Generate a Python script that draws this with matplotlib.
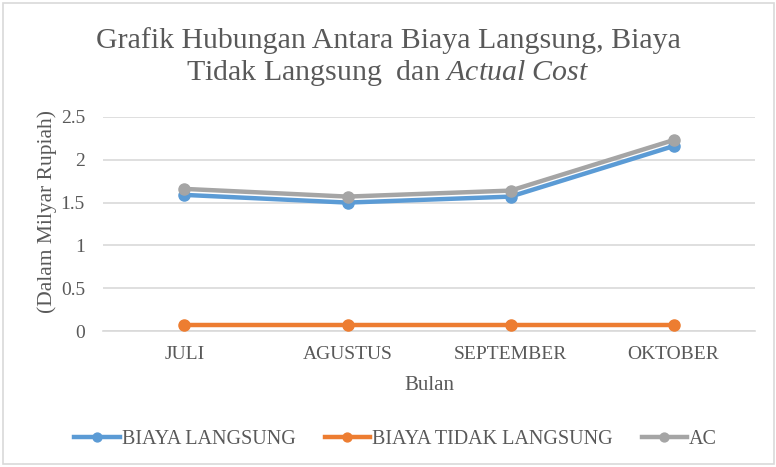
import matplotlib
matplotlib.use("Agg")
import matplotlib.pyplot as plt
from matplotlib.patches import Rectangle

bulan = ["JULI", "AGUSTUS", "SEPTEMBER", "OKTOBER"]
biaya_langsung = [1.59, 1.50, 1.57, 2.16]
biaya_tidak_langsung = [0.07, 0.07, 0.07, 0.07]
actual_cost = [1.66, 1.57, 1.64, 2.23]
yticks = [0, 0.5, 1, 1.5, 2, 2.5]
ytick_labels = ["0", "0.5", "1", "1.5", "2", "2.5"]

plt.rcParams['font.family'] = ['Liberation Serif', 'DejaVu Serif']
plt.rcParams['mathtext.fontset'] = 'custom'
plt.rcParams['mathtext.rm'] = 'Liberation Serif'
plt.rcParams['mathtext.it'] = 'Liberation Serif:italic'
txt = '#595959'

fig = plt.figure(figsize=(7.76, 4.67), dpi=100)
ax = fig.add_axes([0.1327, 0.2912, 0.8403, 0.4583])

x = list(range(len(bulan)))
ax.plot(x, biaya_langsung, color='#5B9BD5', lw=3.2, marker='o', ms=8, label='BIAYA LANGSUNG', zorder=3)
ax.plot(x, biaya_tidak_langsung, color='#ED7D31', lw=3.2, marker='o', ms=8, label='BIAYA TIDAK LANGSUNG', zorder=3)
ax.plot(x, actual_cost, color='#A5A5A5', lw=3.2, marker='o', ms=8, label='AC', zorder=4)

ax.set_xlim(-0.5, 3.5)
ax.set_ylim(0, 2.5)
ax.set_xticks(x)
ax.set_xticklabels(bulan)
ax.set_yticks(yticks)
ax.set_yticklabels(ytick_labels)
ax.tick_params(length=0, labelsize=14, colors=txt)
ax.tick_params(axis='y', pad=13)
ax.tick_params(axis='x', pad=11)
ax.grid(True, axis='y', color='#D9D9D9', lw=1.2)
for s in ['top', 'right', 'left']:
    ax.spines[s].set_visible(False)
ax.spines['bottom'].set_color('#D9D9D9')
ax.spines['bottom'].set_linewidth(1.2)

ax.set_xlabel('Bulan', fontsize=15, color=txt, labelpad=9)
ax.set_ylabel('(Dalam Milyar Rupiah)', fontsize=15.5, color=txt)
ax.yaxis.set_label_coords(-0.07, 0.56)

fig.text(0.5, 0.897, 'Grafik Hubungan Antara Biaya Langsung, Biaya', ha='center', va='baseline', fontsize=21.5, color=txt)
fig.text(0.5, 0.829, 'Tidak Langsung  dan $\\it{Actual\\ Cost}$', ha='center', va='baseline', fontsize=21.5, color=txt)

ax.legend(loc='center', bbox_to_anchor=(0.51, 0.058), bbox_transform=fig.transFigure, ncol=3, frameon=False,
          fontsize=14.5, labelcolor=txt, handlelength=2.25, handletextpad=0.1, columnspacing=1.45, markerscale=0.8)

fig.patches.append(Rectangle((0.004, 0.006), 0.994, 0.988, transform=fig.transFigure, fill=False,
                             edgecolor='#D9D9D9', lw=1.2))

fig.savefig('out.png', dpi=100)
